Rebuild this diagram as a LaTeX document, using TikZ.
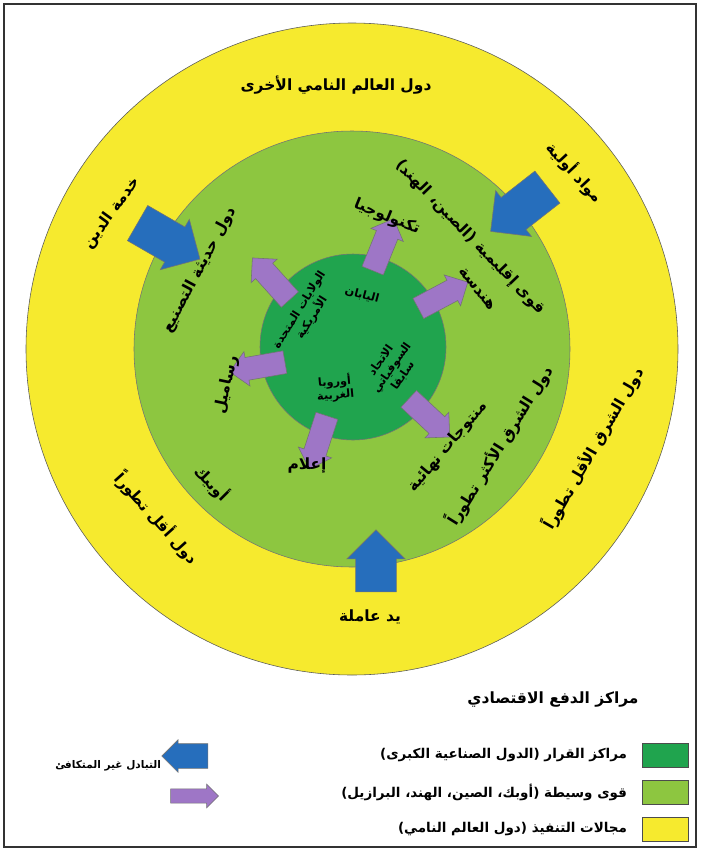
\documentclass[tikz,border=0pt]{standalone}
\usepackage{fontspec}
\newfontfamily\arabicfont[Script=Arabic]{DejaVu Sans}
\TeXXeTstate=1
\usepackage{tikz}
\usetikzlibrary{shapes.arrows}
\definecolor{outeryellow}{RGB}{246,234,46}
\definecolor{midgreen}{RGB}{141,198,64}
\definecolor{coregreen}{RGB}{32,164,78}
\definecolor{flowblue}{RGB}{38,110,188}
\definecolor{flowpurple}{RGB}{158,118,198}
\newcommand{\artxt}[1]{{\arabicfont\beginR #1\endR}}

\tikzset{
  flow/.style={single arrow, draw=black!55, line width=0.4pt, inner xsep=0pt,
    minimum width=0pt, single arrow tip angle=90},
  bigflow/.style={flow, fill=flowblue, inner ysep=0.5cm,
    single arrow head extend=0.22cm, minimum height=1.8cm},
  smallflow/.style={flow, fill=flowpurple, inner ysep=0.28cm,
    single arrow head extend=0.15cm, minimum height=1.4cm},
  lbl/.style={font=\bfseries\fontsize{11}{13}\selectfont},
  inlbl/.style={font=\bfseries\fontsize{8}{9.5}\selectfont, align=center},
  keylbl/.style={font=\bfseries\fontsize{9.6}{12}\selectfont},
  keybox/.style={draw=black!70, minimum width=1.15cm, minimum height=0.6cm, inner sep=0pt}
}

\begin{document}
\begin{tikzpicture}[x=0.025cm, y=-0.025cm]
\useasboundingbox (0,0) rectangle (700,851);
\draw[line width=1.4pt, black!80] (4,4) rectangle (696,847);

% rings
\coordinate (ctr) at (352,349);
\filldraw[fill=outeryellow, draw=black!65] (ctr) circle[radius=326];
\filldraw[fill=midgreen, draw=black!55] (ctr) circle[radius=218];
\filldraw[fill=coregreen, draw=black!55] (353,347) circle[radius=93];

% blue arrows (inflow)
\node[bigflow, rotate=-30] (debt) at (160,236) {};
\node[bigflow, rotate=218] (raw) at (527,203) {};
\node[bigflow, rotate=90, minimum height=1.55cm] (labour) at (376,571) {};

% purple arrows (outflow)
\node[smallflow, rotate=68] (tech) at (381,250) {};
\node[smallflow, rotate=28] (eng) at (438,298) {};
\node[smallflow, rotate=132] (usa) at (275,283) {};
\node[smallflow, rotate=190] (cap) at (263,366) {};
\node[smallflow, rotate=252] (media) at (320,437) {};
\node[smallflow, rotate=-43] (goods) at (425,414) {};

% outer ring labels
\node[lbl] (other) at (336,85) {\artxt{دول العالم النامي الأخرى}};
\node[lbl, rotate=54] (debtlbl) at (112,213) {\artxt{خدمة الدين}};
\node[lbl, rotate=-47] (rawlbl) at (575,172) {\artxt{مواد أولية}};
\node[lbl, rotate=60] (eastless) at (593,448) {\artxt{دول الشرق الأقل تطوراً}};
\node[lbl, rotate=-48] (less) at (157,518) {\artxt{دول أقل تطوراً}};
\node[lbl] (labourlbl) at (370,617) {\artxt{يد عاملة}};

% middle ring labels
\node[lbl, rotate=62] (newind) at (200,270) {\artxt{دول حديثة التصنيع}};
\node[lbl, rotate=-46] (region) at (470,237) {\artxt{قوى إقليمية (الصين، الهند)}};
\node[lbl, rotate=-22] (techlbl) at (387,217) {\artxt{تكنولوجيا}};
\node[lbl, rotate=-52] (englbl) at (477,289) {\artxt{هندسة}};
\node[lbl, rotate=78] (caplbl) at (227,385) {\artxt{رساميل}};
\node[lbl] (medialbl) at (307,466) {\artxt{إعلام}};
\node[lbl, rotate=50] (goodslbl) at (448,447) {\artxt{منتوجات نهائية}};
\node[lbl, rotate=58] (eastmore) at (500,445) {\artxt{دول الشرق الأكثر تطوراً}};
\node[lbl, rotate=-45] (opec) at (212,483) {\artxt{أوبيك}};

% core labels
\node[inlbl, rotate=-15] (japan) at (362,295) {\artxt{اليابان}};
\node[inlbl, rotate=58] (usalbl) at (306,314) {\artxt{الولايات المتحدة}\\\artxt{الأمريكية}};
\node[inlbl, rotate=55] (ussr) at (392,368) {\artxt{الاتحاد}\\\artxt{السوفياتي}\\\artxt{سابقا}};
\node[inlbl, rotate=5] (europe) at (335,388) {\artxt{أوروبا}\\\artxt{الغربية}};

% key
\node[lbl] (keytitle) at (553,700) {\artxt{مراكز الدفع الاقتصادي}};
\node[keybox, fill=coregreen] (k1) at (665,755) {};
\node[keybox, fill=midgreen] (k2) at (665,792) {};
\node[keybox, fill=outeryellow] (k3) at (665,829) {};
\node[keylbl, anchor=east] (k1lbl) at (632,755) {\artxt{مراكز القرار (الدول الصناعية الكبرى)}};
\node[keylbl, anchor=east] (k2lbl) at (632,792) {\artxt{قوى وسيطة (أوبك، الصين، الهند، البرازيل)}};
\node[keylbl, anchor=east] (k3lbl) at (632,829) {\artxt{مجالات التنفيذ (دول العالم النامي)}};
\node[flow, fill=flowblue, rotate=180, inner ysep=0.3cm, single arrow head extend=0.1cm,
  minimum height=1.15cm] (kblue) at (191,756) {};
\node[flow, fill=flowpurple, inner ysep=0.17cm, single arrow head extend=0.12cm,
  minimum height=1.2cm] (kpurple) at (191,796) {};
\node[keylbl, anchor=east, font=\bfseries\fontsize{7.5}{9}\selectfont] (klbl) at (166,766) {\artxt{التبادل غير المتكافئ}};
\end{tikzpicture}
\end{document}
